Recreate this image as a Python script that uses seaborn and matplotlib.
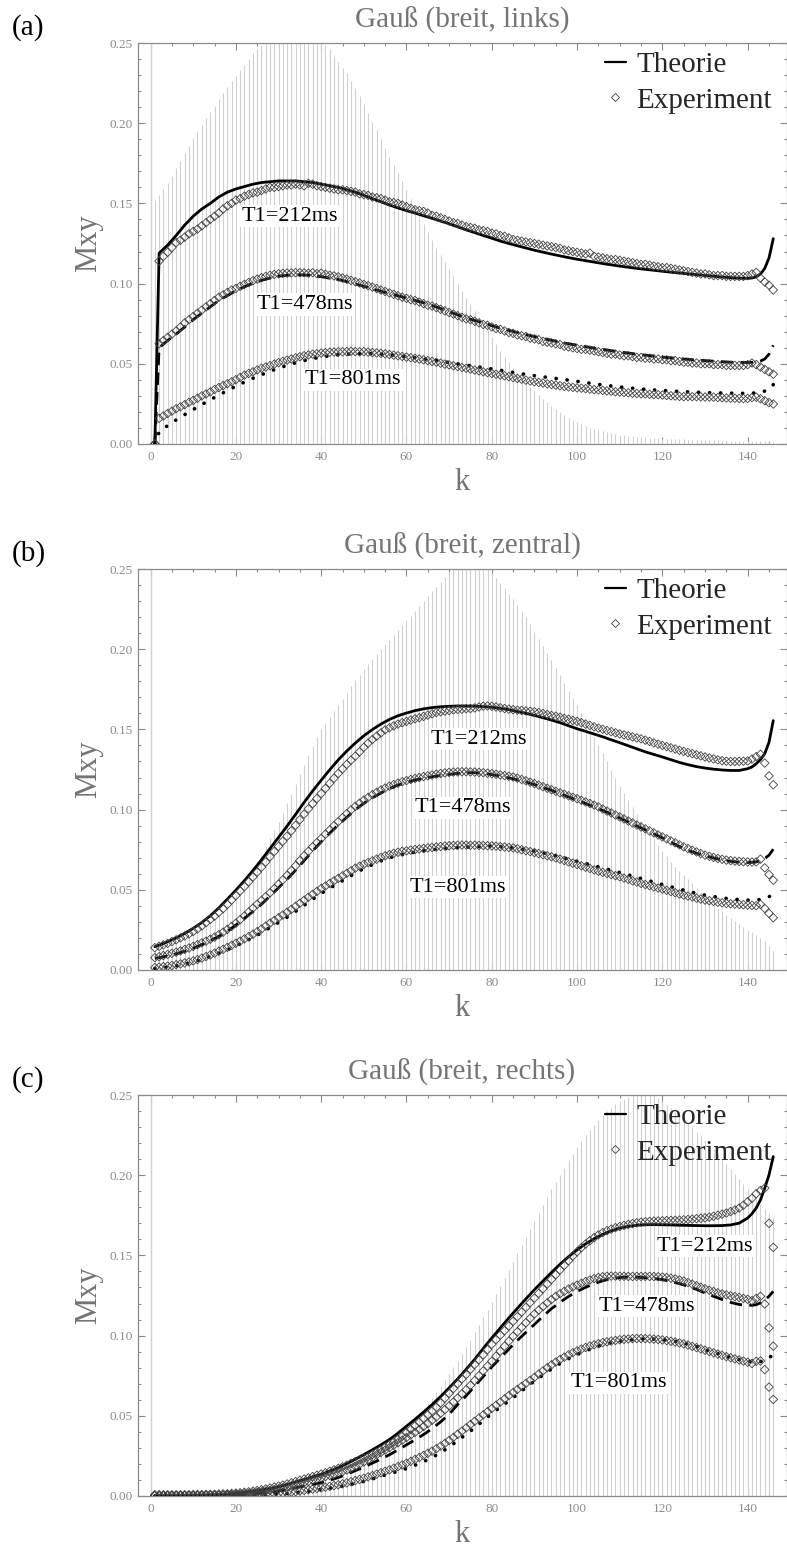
import numpy as np
import matplotlib
matplotlib.use("Agg")
import matplotlib.pyplot as plt
import seaborn as sns
from matplotlib.lines import Line2D
from matplotlib.ticker import MultipleLocator, FormatStrFormatter

# Echo index k and the coarser grid on which the model curves are tabulated
k = np.arange(1, 147)
k_theory = np.r_[1, np.arange(2, 141, 2), np.arange(141, 147)]

titles = ["Gauß (breit, links)", "Gauß (breit, zentral)", "Gauß (breit, rechts)"]
panel_tags = ["(a)", "(b)", "(c)"]
t1_labels = ["T1=212ms", "T1=478ms", "T1=801ms"]
legend_labels = ["Theorie", "Experiment"]
x_ticks = [0, 20, 40, 60, 80, 100, 120, 140]
y_ticks = [0.00, 0.05, 0.10, 0.15, 0.20, 0.25]

# All Mxy values below are given in units of 1e-3
# Flip-angle profile (grey sticks), one value per echo
flip_a = [152, 155, 159, 163, 167, 172, 176.5, 181.5, 186, 190.5,
          195, 199, 203, 207, 211, 215, 219, 222.5, 226, 229.5,
          233, 236.5, 240, 243.5, 246.5, 249, 251, 253, 254.5, 255.5,
          256, 256, 256, 255.5, 255, 254.5, 254, 253, 251.5, 250,
          248.5, 246, 242, 238, 234.5, 231, 226.5, 222, 217, 212,
          206.5, 201, 195.5, 190, 184.5, 179, 174, 169, 164, 158.5,
          153, 147.5, 142, 137, 132, 127, 122.5, 118, 113.5, 109,
          104.5, 100, 95.5, 91, 87, 83, 79, 75, 71, 67,
          62.5, 58, 54.5, 51, 47.5, 44.5, 41.5, 38.5, 35.5, 33,
          30.5, 28, 26, 24, 22, 20, 18, 16.5, 15, 13.5,
          12.3, 11.2, 10.2, 9.3, 8.5, 7.8, 7.2, 6.7, 6.2, 5.8,
          5.4, 5.1, 4.8, 4.5, 4.3, 4.1, 3.9, 3.7, 3.6, 3.4,
          3.3, 3.2, 3.1, 3.0, 2.9, 2.8, 2.7, 2.6, 2.5, 2.4,
          2.3, 2.2, 2.2, 2.1, 2.0, 2.0, 1.9, 1.9, 1.8, 1.8,
          1.7, 1.7, 1.6, 1.6, 1.5, 1.5]
flip_b = [12, 12.5, 13, 14, 15, 16, 17, 18.5, 20, 21.5,
          23, 25, 27, 29, 31.5, 34, 37, 40, 43, 46.5,
          50, 54, 58, 62.5, 67, 72, 77, 82, 87, 92.5,
          98, 104, 110, 116, 122, 128, 134, 139.5, 145, 150,
          154, 158, 161.5, 165, 169, 173, 177, 180.5, 184, 187.5,
          191, 194, 197, 200, 203, 206, 209, 212, 215, 218,
          221, 224, 227, 230, 233, 236, 239, 242, 245, 248,
          250, 252, 253.5, 254.5, 255, 255, 254.5, 253, 250.5, 247.5,
          244.5, 241.5, 238, 234.5, 231, 227.5, 224, 220, 215.5, 211,
          206.5, 202, 197.5, 193, 188.5, 184, 179, 174, 169.5, 165,
          160, 155, 150, 145, 140, 135, 130, 125, 120, 115,
          110.5, 106, 101.5, 97, 93, 89, 85.5, 82, 78, 74.5,
          71, 67.5, 64.5, 61.5, 59, 56.5, 54, 51, 48.5, 46,
          43, 40.5, 38.5, 36.5, 34.5, 32.5, 30.5, 28.5, 26.5, 25,
          23.5, 22, 20, 18, 15, 12]
flip_c = [0.2, 0.2, 0.2, 0.2, 0.3, 0.3, 0.3, 0.4, 0.4, 0.5,
          0.5, 0.6, 0.7, 0.7, 0.8, 0.9, 1.1, 1.2, 1.3, 1.5,
          1.7, 1.9, 2.1, 2.3, 2.5, 2.8, 3.1, 3.5, 3.8, 4.2,
          4.7, 5.1, 5.6, 6.2, 6.8, 7.4, 8.1, 8.9, 9.7, 10.5,
          11.4, 12.4, 13.4, 14.5, 15.7, 17, 18.3, 19.8, 21.3, 22.9,
          24.6, 26.4, 28.3, 30.3, 32.4, 34.6, 36.9, 39.3, 41.8, 44.4,
          47, 49.5, 52.2, 55, 58, 61.4, 64.9, 68.6, 72.4, 76.3,
          80.3, 84.4, 88.6, 93, 97.4, 102, 106.6, 111.3, 116.1, 121,
          125.9, 130.9, 135.9, 141, 146.1, 151.2, 156.3, 161.4, 166.5, 171.6,
          176.6, 181.5, 186.3, 191.1, 195.8, 200.4, 204.8, 209.2, 213.3, 217.4,
          221.1, 224.8, 228.2, 231.4, 234.5, 237.3, 239.8, 242.1, 244.2, 246,
          247.5, 248.7, 249.7, 250.4, 250.9, 251, 250.6, 249.8, 248, 246,
          243.8, 241.6, 239.4, 237.1, 234.7, 232.3, 229.8, 227.2, 224.6, 222,
          219.3, 216.5, 213.5, 210.4, 207.2, 204, 200.8, 197.6, 194.4, 191.3,
          188.2, 185, 181.8, 179, 176.2, 173.3]

# Simulated signal on k_theory
theo_a_212 = [0, 119, 124, 130, 136.5, 142, 146.5, 150, 154, 157,
              159, 160.5, 162, 163, 163.5, 164, 164, 164, 163.5, 163,
              162, 161, 160, 158.5, 157, 155, 153, 151, 149, 147.2,
              145.5, 144, 142.3, 140.7, 139, 137.3, 135.4, 133.5, 131.8, 130,
              128.3, 126.5, 125, 123.6, 122.2, 120.8, 119.6, 118.4, 117.3, 116.2,
              115.2, 114.3, 113.4, 112.5, 111.7, 110.9, 110.2, 109.5, 108.9, 108.3,
              107.7, 107.1, 106.6, 106.1, 105.6, 105.1, 104.6, 104.1, 103.7, 103.4,
              103.3, 103.5, 104.3, 106, 109.5, 116, 128]
theo_a_478 = [0, 60, 64.5, 68.5, 73, 77.5, 81.5, 85.5, 89.5, 92.5,
              95.5, 98, 100.2, 102, 103.5, 104.6, 105.2, 105.5, 105.4, 105,
              104.3, 103.4, 102.5, 101.2, 99.8, 98.3, 96.8, 95.2, 93.8, 92.4,
              91, 89.5, 88, 86.3, 84.5, 82.5, 80.5, 78.5, 77, 75.5,
              73.8, 72.2, 70.8, 69.5, 68.2, 67, 65.8, 64.7, 63.5, 62.5,
              61.6, 60.7, 59.8, 59, 58.2, 57.4, 56.7, 56, 55.4, 54.8,
              54.2, 53.7, 53.2, 52.8, 52.3, 52, 51.6, 51.3, 51, 50.9,
              50.8, 50.9, 51.1, 51.7, 53, 56, 61.5]
theo_a_801 = [0, 7.5, 11.5, 15, 18.3, 21.5, 24.6, 27.6, 30.5, 33.3,
              36, 38.6, 41, 43.2, 45.3, 47.3, 49, 50.6, 52, 53.2,
              54.2, 55, 55.6, 56, 56.3, 56.4, 56.3, 56, 55.6, 55.1,
              54.5, 53.8, 53.1, 52.4, 51.6, 50.8, 50, 49.2, 48.4, 47.6,
              46.8, 46, 45.1, 44.2, 43.4, 42.6, 41.9, 41.2, 40.5, 39.8,
              39.1, 38.3, 37.6, 36.8, 36.2, 35.6, 35, 34.5, 34.1, 33.7,
              33.4, 33.1, 32.8, 32.5, 32.3, 32.1, 31.9, 31.8, 31.7, 31.6,
              31.6, 31.7, 31.9, 32.3, 33, 34.3, 37]
theo_b_212 = [14.5, 15.5, 17.6, 20, 22.8, 26, 29.6, 33.8, 38.7, 44.2,
              49.8, 55.7, 62, 68.7, 75.7, 82.7, 89.7, 97, 104.5, 111.6,
              118.3, 124.8, 131, 136.5, 141.5, 146, 149.9, 153.3, 156.2, 158.5,
              160.2, 161.7, 162.8, 163.6, 164.1, 164.4, 164.6, 164.6, 164.5, 164.2,
              163.8, 163.1, 162.3, 161.2, 160, 158.7, 157.3, 155.8, 154.2, 152.3,
              150.4, 148.8, 147.1, 145.4, 143.5, 141.7, 139.8, 137.9, 136, 134.4,
              132.8, 131.1, 129.4, 128, 126.8, 125.9, 125.2, 124.7, 124.4, 124.4,
              125.5, 126.6, 128.6, 131.2, 134.9, 142, 155.5]
theo_b_478 = [7.3, 7.7, 8.8, 10.1, 11.7, 13.6, 15.8, 18.2, 21, 24.2,
              28, 32.2, 36.4, 41, 46, 51.3, 56.5, 62.2, 68.2, 74.2,
              79.9, 85.3, 90.4, 95.2, 99.9, 103.9, 107.3, 110.3, 113.1, 115.3,
              117, 118.4, 119.6, 120.5, 121.3, 122, 122.6, 123, 123, 122.6,
              121.8, 120.9, 119.8, 118.6, 117.2, 115.6, 113.8, 112, 110, 107.9,
              105.8, 103.8, 101.7, 99.5, 97.2, 94.8, 92.3, 89.8, 87.4, 84.9,
              82.4, 79.7, 77, 74.6, 72.8, 71.2, 69.8, 68.6, 67.7, 67.2,
              67, 67.1, 67.4, 68.2, 69.5, 71.6, 75.3]
theo_b_801 = [1, 1.2, 1.8, 2.6, 3.6, 5, 6.7, 8.5, 10.5, 12.6,
              15, 17.6, 20.2, 23.2, 26.5, 29.6, 32.9, 36.5, 40.3, 44.1,
              47.7, 51, 54.1, 57.3, 60.4, 63.2, 65.7, 68, 69.9, 71.3,
              72.5, 73.5, 74.3, 75, 75.5, 75.9, 76.3, 76.6, 76.9, 77.1,
              77.2, 76.9, 76.4, 75.8, 75, 74.1, 73, 71.8, 70.5, 69.2,
              67.8, 66.4, 65, 63.6, 62.2, 60.8, 59.3, 57.8, 56.3, 54.8,
              53.3, 51.9, 50.5, 49.1, 47.8, 46.7, 45.8, 45, 44.3, 43.9,
              43.6, 43.5, 43.6, 44, 44.6, 45.6, 48.3]
theo_c_212 = [0.1, 0.1, 0.1, 0.2, 0.2, 0.3, 0.4, 0.6, 0.9, 1.2,
              1.7, 2.3, 3, 3.7, 4.6, 5.8, 7.2, 8.7, 10.3, 11.9,
              13.5, 15.5, 17.7, 20.2, 23, 25.8, 28.8, 31.9, 35.2, 39.2,
              43.5, 47.8, 52.3, 57, 62, 67.4, 73, 79, 85.2, 92,
              98.5, 104.8, 111, 117, 122.9, 128.6, 134, 139.4, 144.5, 149.2,
              153.5, 157.2, 160.4, 163.1, 165.3, 167, 168.1, 168.8, 169.1, 169.2,
              169.1, 169, 168.8, 168.7, 168.6, 168.5, 168.5, 168.6, 169, 170.1,
              173.3, 176, 179.5, 184.6, 191.9, 200.2, 211.6]
theo_c_478 = [0, 0, 0.1, 0.1, 0.1, 0.2, 0.2, 0.3, 0.4, 0.6,
              0.8, 1, 1.4, 1.8, 2.4, 3.1, 4, 5.1, 6.2, 7.2,
              8.3, 9.8, 11.5, 13.5, 15.8, 18, 20.5, 23, 25.7, 28.7,
              31.9, 35, 38.3, 42, 46.2, 51, 57, 62.5, 68.5, 74.5,
              80.5, 86, 91.6, 97, 102, 107, 112, 116.8, 120.8, 124.4,
              127.5, 130.1, 132.4, 134.2, 135.5, 136.2, 136.5, 136.4, 136.1, 135.6,
              134.9, 133.7, 132.4, 130.8, 128.8, 126.6, 124.5, 122.5, 120.7, 119.4,
              118.9, 118.9, 119.3, 120.4, 122.2, 124.5, 127.6]
theo_c_801 = [0, 0, 0, 0, 0.1, 0.1, 0.1, 0.1, 0.2, 0.2,
              0.3, 0.4, 0.5, 0.7, 0.9, 1.2, 1.6, 2, 2.6, 3.3,
              4.1, 4.8, 5.7, 6.7, 7.8, 9.1, 10.6, 12.3, 13.9, 15.4,
              17.1, 19.2, 21.4, 24, 27, 30.5, 34.5, 38.5, 42.5, 47,
              51.5, 55.3, 59.2, 63.3, 67.6, 71.6, 75.4, 79.2, 82.6, 85.6,
              88.2, 90.4, 92.5, 94.3, 95.6, 96.5, 97.2, 97.7, 97.9, 97.8,
              97.5, 96.8, 95.9, 94.7, 93.1, 91.3, 89.6, 87.9, 86.3, 85,
              84, 83.7, 83.6, 83.8, 84.4, 86.1, 88.2]

# Measured signal, one value per echo k = 1..146
exp_a_212 = [0, 114, 117, 119.5, 122.5, 125.5, 127, 129, 131, 132.5,
             134, 136, 138, 140, 142, 144, 146.5, 148.5, 150, 152,
             153, 154.5, 155.5, 156.5, 157, 158, 159, 160, 160, 160.5,
             161, 161.5, 161.5, 162, 161.5, 161, 162.5, 162, 161, 160.5,
             160, 159.5, 159, 158.5, 158.5, 158, 157.5, 157, 156, 155.5,
             155, 154, 153.5, 153, 152, 151, 150.5, 150, 149, 148,
             147, 146, 145.5, 145, 144, 142.5, 142, 141, 140, 139,
             138, 137.5, 136.5, 135.5, 135, 134.5, 133.5, 133, 132.5, 131.5,
             131, 130, 129.5, 128.5, 127.5, 127, 126.5, 126, 125.5, 125,
             124.5, 124, 123.5, 123, 122.5, 122, 121, 120.5, 120, 119.5,
             119, 118.5, 119, 117, 116.5, 116, 115.5, 115, 115, 114.5,
             114, 113.5, 113, 112.5, 112, 112, 111.5, 111, 110.5, 110,
             110, 109.5, 109, 108.5, 108, 107.5, 107, 106.5, 106, 106,
             105.5, 105, 105, 105, 104.5, 104.5, 104.5, 104.5, 104.5, 105,
             106, 107, 103.5, 101, 99, 96]
exp_a_478 = [0, 62.5, 64.5, 66.5, 68.5, 70.5, 73, 75.5, 77.5, 79.5,
             81.5, 83.5, 85.5, 87.5, 89.5, 91.5, 93, 94.5, 96, 97,
             98.3, 99.5, 100.7, 101.8, 102.8, 103.7, 104.5, 105.2, 105.7, 106.1,
             106.4, 106.6, 106.7, 106.8, 106.8, 106.7, 106.5, 106.8, 106.2, 106.5,
             105.8, 105.2, 104.8, 104.2, 103.5, 102.8, 102, 101.2, 100.4, 99.5,
             98.7, 97.8, 96.9, 96, 95.1, 94.2, 93.3, 92.4, 91.5, 90.8,
             90, 89.5, 88.5, 87.5, 86.5, 86, 85, 84, 83, 82,
             81, 80, 79, 78, 77.5, 76.5, 75.5, 74.5, 74, 73,
             72, 71.5, 70.5, 69.5, 69, 68, 67.5, 67, 66, 65.5,
             65, 64, 63.5, 63, 62.5, 62, 61, 60.5, 60, 59.5,
             59, 59, 58.5, 58, 57.5, 57, 56.5, 56, 56, 55.5,
             55, 55, 54.5, 54, 54, 53.5, 53.5, 53, 53, 52.5,
             52.5, 52, 52, 51.5, 51, 51, 50.5, 50.5, 50, 50,
             50, 49.5, 49.5, 49.5, 49, 49, 49, 49, 49, 49.5,
             50.5, 49.5, 48, 46.5, 45, 43.5]
exp_a_801 = [0, 16, 17.5, 19, 20.5, 22, 23.2, 24.5, 26, 27.2,
             28.5, 30, 31.2, 32.5, 34, 35.2, 36.4, 37.6, 38.8, 40.1,
             41.5, 42.9, 44, 45, 46.2, 47.2, 48, 48.9, 49.8, 50.7,
             51.5, 52.3, 53, 53.7, 54.4, 55, 55.5, 56, 56.3, 56.7,
             57, 57.2, 57.4, 57.5, 57.5, 57.6, 57.8, 57.6, 57.5, 57.6,
             57.3, 57, 56.8, 56.5, 56.2, 55.8, 55.4, 55, 54.6, 54.2,
             53.8, 53.4, 52.9, 52.5, 52, 51.5, 51, 50.4, 49.8, 49.3,
             48.8, 48.3, 47.7, 47.2, 46.7, 46.1, 45.6, 45, 44.5, 44,
             43.5, 43, 42.5, 42, 41.4, 40.9, 40.4, 39.8, 39.3, 38.8,
             38.4, 38, 37.5, 37.1, 36.7, 36.3, 35.9, 35.6, 35.3, 35,
             34.8, 34.5, 34.2, 33.9, 33.7, 33.4, 33.1, 32.9, 32.6, 32.4,
             32.1, 31.9, 31.6, 31.5, 31.3, 31.2, 31, 30.8, 30.7, 30.5,
             30.3, 30.1, 29.9, 29.7, 29.5, 29.6, 29.5, 29.5, 29.4, 29.3,
             29.3, 29.2, 29, 28.9, 28.7, 28.6, 28.5, 28.4, 28.3, 28.4,
             28.9, 29.2, 28.2, 27, 25.8, 24.9]
exp_b_212 = [13.9, 14.8, 15.7, 16.6, 17.7, 18.8, 20, 21.2, 22.5, 24,
             25.6, 27.5, 29.5, 31.5, 33.6, 35.9, 38.3, 40.9, 43.6, 46.4,
             49.2, 52, 55, 58, 61, 64.1, 67.3, 70.6, 73.9, 77.1,
             80.3, 83.4, 86.8, 90.2, 93.7, 97.2, 100.5, 103.7, 106.9, 110,
             113.2, 116.4, 119.5, 122.5, 125.4, 128.2, 130.8, 133.3, 136, 138.8,
             141.4, 143.7, 145.8, 147.8, 149.7, 151, 152.2, 153.3, 154.2, 155,
             155.8, 156.6, 157.3, 158.1, 158.9, 159.7, 160.5, 161, 161.4, 161.8,
             162.2, 162.5, 162.6, 162.9, 163, 163.4, 164, 164.5, 164.6, 164.4,
             164, 163.5, 163, 162.6, 162.3, 162, 161.8, 161.5, 161.3, 161,
             160.5, 159.9, 159.3, 158.7, 158.2, 157.6, 156.9, 156.3, 155.6, 155,
             154.2, 153.3, 152.5, 151.6, 150.8, 150.1, 149.3, 148.6, 147.9, 147.2,
             146.6, 146, 145.3, 144.7, 144.1, 143.3, 142.5, 141.6, 140.8, 140,
             139.3, 138.5, 137.8, 137, 136.3, 135.6, 134.9, 134.2, 133.5, 132.8,
             132.2, 131.6, 131, 130.5, 130.2, 130, 130, 130.1, 130.2, 130.3,
             131.5, 133, 134.5, 129, 121, 115.5]
exp_b_478 = [7.7, 8.3, 9, 9.7, 10.4, 11.1, 11.9, 12.8, 13.7, 14.7,
             15.8, 16.9, 18, 19.2, 20.5, 22, 23.6, 25.3, 27.2, 29.2,
             31.4, 33.7, 36.2, 38.6, 41, 43.4, 45.7, 48.1, 50.8, 53.5,
             56.2, 59, 62, 65, 68.2, 71.3, 74, 76.8, 79.4, 82,
             84.7, 87.3, 90, 92.5, 95, 97.5, 99.8, 102, 104, 105.9,
             107.6, 109.3, 110.8, 112.2, 113.5, 114.6, 115.6, 116.5, 117.4, 118.1,
             118.8, 119.4, 120, 120.6, 121.1, 121.6, 122.1, 122.5, 122.9, 123.2,
             123.4, 123.5, 123.6, 123.6, 123.5, 123.4, 123.2, 123, 122.7, 122.4,
             122, 121.6, 121.2, 120.8, 120.3, 119.6, 118.8, 118, 117.1, 116.2,
             115.3, 114.3, 113.3, 112.4, 111.4, 110.5, 109.6, 108.6, 107.7, 106.8,
             105.8, 104.8, 103.8, 102.8, 101.7, 100.4, 99.1, 97.9, 96.6, 95.4,
             94.2, 92.9, 91.7, 90.4, 89.2, 88, 86.7, 85.5, 84.2, 83,
             81.8, 80.5, 79.3, 78, 76.8, 75.7, 74.6, 73.6, 72.6, 71.6,
             70.9, 70.2, 69.5, 69, 68.5, 68.2, 67.9, 67.7, 67.5, 67.4,
             67.3, 67.4, 69.1, 63.7, 59.5, 56]
exp_b_801 = [1.5, 1.8, 2.1, 2.4, 2.8, 3.3, 3.8, 4.4, 5, 5.7,
             6.5, 7.4, 8.4, 9.4, 10.5, 11.7, 12.9, 14.1, 15.4, 16.7,
             18, 19.4, 20.8, 22.3, 23.9, 25.6, 27.4, 29.2, 30.9, 32.6,
             34.3, 36, 37.8, 39.7, 41.6, 43.5, 45.4, 47.2, 49, 50.8,
             52.4, 54, 55.6, 57.1, 58.7, 60.3, 61.9, 63.5, 64.7, 65.9,
             67, 68.1, 69.1, 70.2, 71.2, 72, 72.7, 73.4, 74, 74.3,
             74.7, 75.1, 75.5, 75.8, 76.1, 76.4, 76.7, 77, 77.3, 77.5,
             77.7, 77.8, 77.9, 77.9, 77.8, 77.8, 77.7, 77.6, 77.5, 77.4,
             77.2, 76.9, 76.7, 76.4, 76.1, 75.6, 75, 74.4, 73.8, 73.2,
             72.6, 71.9, 71.2, 70.6, 69.9, 69.1, 68.3, 67.4, 66.6, 65.8,
             65, 64.1, 63.3, 62.4, 61.6, 60.9, 60.2, 59.5, 58.8, 58.1,
             57.3, 56.5, 55.6, 54.8, 54, 53.3, 52.6, 51.8, 51.1, 50.4,
             49.7, 48.9, 48.2, 47.4, 46.7, 46.1, 45.5, 44.8, 44.2, 43.6,
             43.2, 42.8, 42.3, 41.9, 41.5, 41.3, 41.1, 40.9, 40.7, 40.5,
             40.3, 40.1, 40.9, 38.4, 35.3, 32.6]
exp_c_212 = [0.8, 0.8, 0.8, 0.8, 0.8, 0.8, 0.8, 0.8, 0.8, 0.9,
             0.9, 0.9, 1, 1, 1.1, 1.2, 1.3, 1.4, 1.6, 1.8,
             2, 2.3, 2.6, 3, 3.4, 3.9, 4.4, 5, 5.6, 6.2,
             6.8, 7.5, 8.2, 9, 9.8, 10.6, 11.3, 12.1, 12.9, 13.7,
             14.5, 15.4, 16.3, 17.2, 18.2, 19.2, 20.3, 21.4, 22.5, 23.6,
             24.7, 25.9, 27.3, 28.8, 30.4, 32, 33.6, 35.3, 37.2, 39.5,
             41.5, 43.7, 46, 48.3, 50.6, 52.9, 55.3, 58, 61, 64,
             67, 70, 73, 75.8, 79, 82, 85, 88, 91.3, 94.6,
             97.5, 100.3, 103.1, 106, 108.9, 111.8, 114.7, 117.6, 120.5, 123.4,
             126.3, 129.2, 132.2, 135.1, 138, 140.9, 143.8, 146.7, 149.6, 152.3,
             154.8, 157.1, 159.2, 161.1, 162.8, 164.2, 165.4, 166.4, 167.3, 168,
             168.7, 169.3, 169.8, 170.3, 170.7, 171, 171.2, 171.4, 171.5, 171.6,
             171.7, 171.8, 171.9, 172, 172.2, 172.4, 172.6, 172.9, 173.1, 173.4,
             173.9, 174.4, 175, 175.7, 176.4, 177.3, 178.3, 179.5, 181.3, 183.4,
             185.6, 188.5, 190.5, 192, 170, 155]
exp_c_478 = [0.3, 0.3, 0.3, 0.3, 0.3, 0.3, 0.3, 0.3, 0.3, 0.3,
             0.4, 0.4, 0.4, 0.5, 0.5, 0.6, 0.7, 0.8, 0.9, 1,
             1.2, 1.4, 1.6, 1.9, 2.2, 2.6, 3, 3.5, 4, 4.5,
             5.1, 5.7, 6.3, 7, 7.7, 8.4, 9.1, 9.9, 10.7, 11.4,
             12.1, 12.8, 13.5, 14.3, 15.2, 16.2, 17.3, 18.5, 19.8, 21.2,
             22.6, 24.1, 25.6, 27.1, 28.6, 30.1, 31.6, 33.2, 34.8, 36.4,
             38, 39.7, 41.5, 43.3, 45.2, 47.2, 49.3, 51.5, 53.8, 56.2,
             58.6, 61.1, 63.7, 66.3, 69, 72, 75, 78, 81, 84,
             87.2, 90.3, 93.4, 96.5, 99.6, 102.4, 105.2, 108, 110.8, 113.5,
             115.9, 118.2, 120.4, 122.5, 124.5, 126.1, 127.6, 129, 130.3, 131.5,
             132.6, 133.7, 134.7, 135.6, 136.3, 136.7, 137, 137.1, 137.1, 137,
             137, 136.9, 136.9, 136.9, 136.9, 136.9, 136.9, 136.8, 136.7, 136.5,
             136.2, 135.8, 135.3, 134.7, 134, 133.1, 132.1, 131.1, 130.1, 129.2,
             128.3, 127.5, 126.7, 126, 125.4, 124.8, 124.3, 123.8, 123.2, 122.6,
             121.8, 123.2, 124.5, 119.7, 104.8, 93.4]
exp_c_801 = [0.2, 0.2, 0.2, 0.2, 0.2, 0.2, 0.2, 0.2, 0.2, 0.2,
             0.2, 0.2, 0.3, 0.3, 0.3, 0.3, 0.3, 0.4, 0.4, 0.4,
             0.5, 0.5, 0.6, 0.7, 0.8, 0.9, 1, 1.2, 1.4, 1.6,
             1.8, 2.1, 2.4, 2.7, 3.1, 3.5, 3.9, 4.3, 4.7, 5.1,
             5.5, 6, 6.5, 7, 7.6, 8.2, 8.9, 9.6, 10.3, 11.1,
             11.9, 12.7, 13.6, 14.5, 15.4, 16.3, 17.3, 18.3, 19.4, 20.5,
             21.6, 22.8, 24, 25.3, 26.6, 28, 29.5, 31.1, 32.8, 34.6,
             36.5, 38.5, 40.5, 42.5, 44.6, 46.6, 48.6, 50.6, 52.6, 54.6,
             56.6, 58.6, 60.6, 62.6, 64.5, 66.4, 68.3, 70.2, 72.1, 74,
             76, 78, 80, 81.8, 83.5, 85.1, 86.6, 88, 89.3, 90.5,
             91.6, 92.6, 93.5, 94.3, 95, 95.6, 96.1, 96.6, 97, 97.4,
             97.7, 97.9, 98.1, 98.2, 98.2, 98.1, 98, 97.8, 97.6, 97.3,
             96.9, 96.5, 96, 95.4, 94.8, 94.1, 93.3, 92.5, 91.7, 90.9,
             90.1, 89.3, 88.5, 87.7, 86.9, 86.2, 85.5, 84.8, 84.1, 83.4,
             82.6, 84, 84.2, 78.8, 67.9, 60.2]

# Positions (k, Mxy) of the T1 annotations in each panel
t1_pos = [[(32.6, 0.142), (36.2, 0.087), (47.5, 0.040)],
          [(76.9, 0.144), (73.3, 0.101), (72.1, 0.0517)],
          [(129.9, 0.1557), (116.4, 0.1183), (109.8, 0.0706)]]

panels = [
    (flip_a, [theo_a_212, theo_a_478, theo_a_801], [exp_a_212, exp_a_478, exp_a_801]),
    (flip_b, [theo_b_212, theo_b_478, theo_b_801], [exp_b_212, exp_b_478, exp_b_801]),
    (flip_c, [theo_c_212, theo_c_478, theo_c_801], [exp_c_212, exp_c_478, exp_c_801]),
]

sns.set_theme(style="ticks")
plt.rcParams["font.family"] = ["Liberation Serif", "DejaVu Serif"]

W, H = 787, 1546
fig = plt.figure(figsize=(W / 100, H / 100), dpi=100)

FRAME = "#8a8a8a"
LABEL = "#747474"
STICK = "#d0d0d0"
dash_styles = [None, (4.5, 2.6), (0.05, 3.0)]

for i, (flip, theo, meas) in enumerate(panels):
    top = 43 + i * 526
    ax = fig.add_axes([138 / W, 1 - (top + 401) / H, 648.5 / W, 401 / H])

    # flip-angle sticks and the k = 0 axis line
    ax.vlines(k, 0, np.asarray(flip) * 1e-3, colors=STICK, lw=0.8, zorder=1)
    ax.axvline(0, color=STICK, lw=1.0, zorder=1)

    # model curves
    for y, ds in zip(theo, dash_styles):
        sns.lineplot(x=k_theory, y=np.asarray(y) * 1e-3, ax=ax, color="black",
                     lw=2.0, errorbar=None, zorder=3)
        line = ax.lines[-1]
        if ds is not None:
            line.set_dashes(ds)
            line.set_dash_capstyle("round" if ds[0] < 1 else "butt")
            if ds[0] < 1:
                line.set_linewidth(2.6)

    # measured points
    for y in meas:
        sns.scatterplot(x=k, y=np.asarray(y) * 1e-3, ax=ax, marker="D", s=19,
                        zorder=4)
        pts = ax.collections[-1]
        pts.set_facecolor("none")
        pts.set_edgecolor("#404040")
        pts.set_linewidth(0.6)

    for (kx, vy), txt in zip(t1_pos[i], t1_labels):
        ax.text(kx, vy, txt, ha="center", va="center", fontsize=16, color="black",
                zorder=6, bbox=dict(facecolor="white", edgecolor="none", pad=1.2))

    ax.set_xlim(-2.95, 149.1)
    ax.set_ylim(0, 0.25)
    ax.set_xticks(x_ticks)
    ax.set_yticks(y_ticks)
    ax.yaxis.set_major_formatter(FormatStrFormatter("%.2f"))
    ax.xaxis.set_minor_locator(MultipleLocator(5))
    ax.yaxis.set_minor_locator(MultipleLocator(0.01))
    ax.tick_params(which="both", direction="in", top=True, right=True,
                   color=FRAME, width=0.8, labelcolor="#8c8c8c", labelsize=9.5)
    ax.tick_params(which="major", length=5)
    ax.tick_params(which="minor", length=2.5)
    ax.tick_params(axis="x", pad=5)
    ax.tick_params(axis="y", pad=4)
    for sp in ax.spines.values():
        sp.set_color(FRAME)
        sp.set_linewidth(0.9)
        sp.set_visible(True)
    ax.set_xlabel("")
    ax.set_ylabel("")

    ax.text(-(138 - 89) / 648.5, 0.5, "Mxy", transform=ax.transAxes, rotation=90,
            ha="center", va="center", fontsize=22, color=LABEL)
    ax.text(0.5, -(490 - 444) / 401, "k", transform=ax.transAxes,
            ha="center", va="baseline", fontsize=22, color=LABEL)

    fig.text(462 / W, 1 - (28 + i * 526) / H, titles[i], ha="center", va="baseline",
             fontsize=21, color=LABEL)
    fig.text(12 / W, 1 - (35 + i * 526) / H, panel_tags[i], ha="left", va="baseline",
             fontsize=21, color="black")

    handles = [Line2D([], [], color="black", lw=1.6),
               Line2D([], [], ls="none", marker="D", ms=3.6, mfc="none",
                      mec="#404040", mew=0.6)]
    leg = ax.legend(handles, legend_labels, loc="upper right",
                    bbox_to_anchor=((775 - 138) / 648.5, 0.985), frameon=False,
                    fontsize=21, handlelength=0.75, handletextpad=0.35,
                    labelspacing=0.3, borderpad=0.0, borderaxespad=0.1)
    leg.set_zorder(7)

fig.savefig("out.png", dpi=100)
